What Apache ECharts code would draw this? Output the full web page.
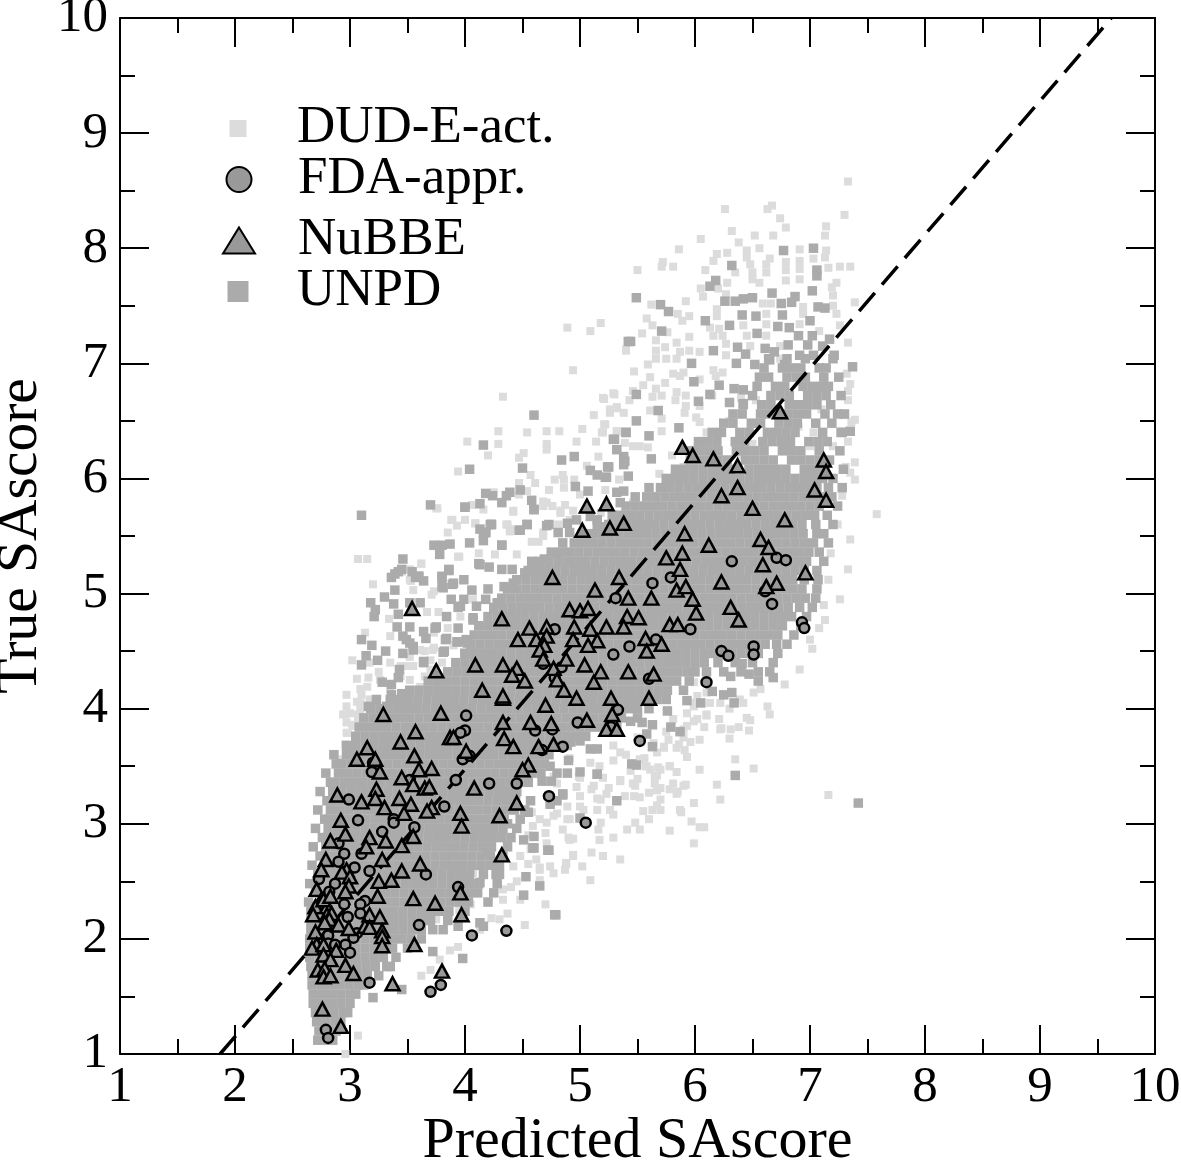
<!DOCTYPE html>
<html>
<head>
<meta charset="utf-8">
<title>Predicted vs true SAscore</title>
<script src="https://cdn.jsdelivr.net/npm/echarts@6/dist/echarts.min.js"></script>
<style>
html, body { margin: 0; padding: 0; background: #fff; }
#chart { width: 1181px; height: 1161px; }
</style>
</head>
<body>
<div id="chart"></div>
<script>
// all values
const tickLabels = [1, 2, 3, 4, 5, 6, 7, 8, 9, 10];
const refLine = [[1.87, 1], [9.62, 10]];

// NuBBE, x then y
const nubbe = [
3.29,3.95, 3.79,3.96, 3.57,3.80, 3.87,3.75, 3.90,3.75, 3.44,3.71, 3.15,3.66, 3.06,3.56, 3.56,3.59, 3.22,3.56,
3.26,3.45, 3.60,3.47, 3.71,3.48, 3.45,3.40, 3.55,3.34, 3.65,3.31, 3.69,3.32, 3.23,3.30, 3.22,3.22, 2.89,3.25,
3.10,3.19, 3.43,3.22, 3.53,3.17, 3.30,3.14, 3.47,3.09, 3.71,3.14, 3.67,3.11, 4.01,3.63, 4.08,3.31, 3.96,3.09,
3.97,2.98, 4.30,3.07, 4.45,3.18, 4.34,3.74, 4.42,3.67, 4.33,3.88, 4.57,3.88, 4.75,3.87, 4.70,4.03, 4.33,4.09,
4.64,3.67, 4.77,3.69, 4.55,3.51, 4.50,3.47, 4.32,2.73, 2.92,3.03, 2.96,2.91, 2.83,2.85, 3.17,2.88, 3.31,2.85,
3.14,2.80, 3.55,2.89, 3.45,2.81, 2.79,2.69, 3.28,2.69, 3.61,2.65, 2.75,2.60, 3.45,2.59, 2.97,2.60, 2.93,2.58,
3.25,2.50, 3.36,2.51, 3.00,2.54, 2.99,2.46, 2.71,2.43, 2.96,2.41, 3.24,2.37, 3.55,2.35, 3.74,2.31, 3.96,2.40,
3.97,2.21, 2.75,2.34, 2.70,2.28, 2.80,2.28, 2.77,2.34, 2.83,2.37, 2.68,2.21, 2.80,2.21, 2.84,2.22, 2.82,2.17,
3.17,2.21, 3.26,2.19, 2.78,2.14, 2.90,2.12, 2.99,2.09, 3.13,2.11, 3.17,2.10, 2.70,2.06, 3.28,2.07, 3.28,2.02,
3.28,1.94, 3.56,1.95, 2.71,1.95, 2.67,1.92, 2.77,1.95, 2.88,1.90, 2.77,1.86, 2.83,1.82, 2.72,1.73, 2.78,1.74,
2.96,1.77, 3.03,1.70, 2.77,1.67, 2.83,1.68, 3.37,1.61, 3.80,1.72, 2.76,1.39, 2.92,1.24,
5.06,5.76, 5.23,5.78, 5.38,5.61, 5.02,5.55, 5.26,5.57, 5.91,5.52, 5.75,5.31, 5.89,5.35, 5.87,5.21, 5.34,5.14,
4.76,5.14, 5.13,5.03, 5.84,5.03, 5.92,5.06, 5.42,4.96, 5.62,4.96, 5.98,4.95, 4.91,4.86, 5.00,4.85, 5.07,4.87,
3.54,4.87, 6.01,4.83, 4.32,4.78, 5.41,4.80, 5.51,4.79, 5.38,4.71, 4.56,4.70, 4.71,4.71, 4.95,4.71, 5.23,4.71,
5.09,4.69, 5.78,4.73, 5.85,4.73, 4.46,4.60, 4.62,4.60, 4.71,4.63, 4.94,4.60, 5.15,4.59, 5.07,4.55, 5.57,4.61,
5.71,4.56, 5.58,4.50, 4.69,4.55, 4.65,4.51, 4.88,4.43, 4.68,4.43, 4.09,4.38, 3.75,4.33, 4.33,4.38, 4.45,4.35,
4.41,4.29, 5.04,4.38, 5.18,4.32, 5.42,4.32, 5.64,4.30, 5.12,4.23, 4.77,4.35, 4.80,4.25, 4.52,4.24, 4.86,4.16,
4.15,4.16, 4.33,4.11, 4.97,4.09, 5.27,4.09, 5.60,4.09, 5.28,3.95, 5.06,3.90, 5.23,3.82, 5.32,3.82,
5.89,6.27, 5.98,6.20, 6.16,6.17, 6.37,6.11, 7.12,6.16, 7.14,6.06, 6.37,5.92, 6.23,5.85, 7.04,5.90, 7.14,5.81,
6.50,5.74, 6.78,5.64, 6.12,5.42, 6.57,5.47, 6.64,5.40, 6.59,5.25, 6.96,5.18, 6.23,5.10, 6.71,5.09, 6.62,5.06,
6.31,4.88, 6.38,4.77, 6.74,6.58
];

// FDA-appr., x then y
const fda = [
4.01,3.94, 4.00,3.81, 3.96,3.79, 4.61,3.81, 4.76,3.82, 4.98,3.88, 4.67,3.64, 4.85,3.67, 3.98,3.56, 4.04,3.59,
3.20,3.53, 3.19,3.45, 3.52,3.38, 3.92,3.38, 4.21,3.35, 4.45,3.35, 4.73,3.24, 2.99,3.21, 3.82,3.15, 3.07,3.03,
3.38,3.04, 3.38,3.01, 3.56,2.97, 3.28,2.93, 2.90,2.83, 2.95,2.74, 3.10,2.74, 2.90,2.67, 3.04,2.62, 3.17,2.59,
3.66,2.56, 2.73,2.52, 2.87,2.48, 2.82,2.41, 3.94,2.45, 3.13,2.33, 3.09,2.30, 2.95,2.30, 3.09,2.22, 2.98,2.19,
3.60,2.12, 3.06,2.05, 3.03,2.01, 4.06,2.03, 4.36,2.07, 2.81,2.03, 2.81,1.96, 2.96,1.95, 2.87,1.95, 3.00,1.88,
2.79,1.87, 3.17,1.62, 3.79,1.60, 3.70,1.54, 2.79,1.21, 2.81,1.14,
5.63,5.09, 5.79,5.14, 5.31,4.96, 4.78,4.69, 5.96,4.69, 5.66,4.60, 5.43,4.54, 5.29,4.47, 4.68,4.39, 4.84,4.36,
4.78,4.27, 5.60,4.26, 5.33,3.99, 5.27,3.84, 5.52,3.72, 5.05,3.01,
6.32,5.28, 6.71,5.31, 6.79,5.29, 6.61,5.02, 6.67,4.91, 6.93,4.75, 6.95,4.70, 6.23,4.50, 6.29,4.46, 6.51,4.54,
6.51,4.47, 6.10,4.23
];

// DUD-E actives that show outside the UNPD cloud, x then y in hundredths
const dudPairs = [
626,834, 663,834, 667,837, 674,826, 679,818, 730,829, 714,819, 713,811, 632,815, 652,811, 668,811, 605,808, 638,805,
586,799, 645,798, 656,800, 691,799, 714,798, 628,796, 619,795, 645,792, 665,791, 713,792, 703,791, 572,788, 616,789,
648,786, 662,786, 679,788, 691,789, 581,784, 571,784, 550,781, 609,781, 726,784, 735,784, 716,783, 635,779, 650,779,
662,779, 679,781, 691,782, 650,773, 679,772, 691,773, 628,770, 656,770, 723,770, 620,765, 605,765, 719,766, 607,758,
627,760, 720,759, 592,754, 562,751, 619,747, 659,752, 666,752, 694,749, 720,750, 739,753, 585,743, 595,741, 619,741,
662,743, 694,743, 723,743, 558,739, 589,737, 563,733, 613,731, 621,730, 642,733, 662,734, 691,734, 726,733, 554,726,
576,727, 616,724, 624,724, 645,724, 662,724, 566,720, 584,718, 595,723, 708,728, 733,718, 574,714, 627,717, 648,715,
674,715, 540,712, 566,711, 587,710, 604,710, 575,704, 559,699, 566,704, 584,704, 595,711, 627,707, 674,704, 547,693,
581,691, 590,692, 616,694, 624,692, 561,688, 555,681, 574,683, 587,689, 604,686, 546,676, 529,674, 520,670, 566,678,
584,675, 592,672, 563,671, 571,672, 583,668, 618,689, 732,691, 733,676, 653,668, 543,668, 532,662, 526,660, 561,659,
592,663, 604,663, 571,652, 591,657, 601,653, 521,647, 532,641, 520,640, 571,641, 604,649, 546,628, 552,628, 559,627,
736,649, 739,614, 735,605, 703,640, 700,628, 720,628, 679,628, 569,604, 716,325, 758,569, 733,858,
297,402, 307,395, 297,388, 298,379, 309,405, 340,404, 294,395, 309,386, 309,417, 326,425, 343,434, 361,451, 296,395,
302,386, 317,408, 335,417, 352,425, 370,434, 296,369, 291,356,
375,574, 388,564, 393,559, 400,564, 409,561, 385,553, 442,572, 436,560, 439,554, 471,579, 483,572, 468,576, 458,545,
464,545, 468,553, 412,535, 426,534, 394,532, 362,526, 352,512, 355,503, 371,499, 345,519, 377,484, 407,495, 419,472,
372,451, 370,442, 344,437, 344,428, 491,564, 518,570, 529,569, 546,579, 567,577, 584,573, 483,524, 445,534,
557,350, 570,347, 578,350, 593,358, 573,366, 584,366, 596,371, 565,341, 581,335, 592,334, 535,337, 546,335, 567,329,
517,350, 529,355, 491,357, 509,353, 474,350, 497,332, 523,326, 552,323, 584,326, 590,382, 593,396, 599,402, 602,411,
564,370, 604,297, 622,321, 635,356, 604,347, 591,364, 570,321, 552,295, 526,312, 517,286, 535,269, 491,286, 487,260,
465,251, 448,234, 430,217, 413,208, 387,190, 370,173, 452,212, 470,230, 509,251, 587,312, 578,330, 561,347, 622,382,
639,408, 657,417, 604,373, 648,390, 678,421, 691,434, 700,460, 713,477, 726,495, 733,521, 735,547, 739,599, 739,651,
735,682, 362,168, 307,116, 394,193, 378,182, 477,257, 465,260, 494,272, 488,266, 448,272, 433,243, 433,234, 437,222,
423,218, 296,100, 413,263, 428,269, 442,263, 457,278, 471,283, 480,309, 491,304, 459,298, 471,301, 451,286, 407,257,
396,272, 372,283, 384,269, 375,217, 367,222, 500,340, 510,330, 480,335, 520,340, 540,360, 550,375, 575,380, 610,395,
630,400, 455,290, 470,292, 485,295, 500,315, 515,322, 445,250, 455,265, 440,245, 425,240, 405,230, 395,225, 385,240,
640,620, 650,630, 660,625, 670,640, 690,645, 710,660, 600,625, 610,640, 580,620, 590,610, 630,650, 640,670, 615,672,
489,731, 509,728, 518,735, 540,711, 494,694, 433,671, 521,669, 530,673, 532,661, 526,657, 512,655, 538,657, 429,641,
471,641, 482,641, 454,640, 502,643, 522,647, 519,640, 532,641, 402,632, 429,630, 471,630, 471,625, 497,632, 514,632,
539,631, 420,620, 451,622, 447,618, 516,619, 394,606, 457,603, 485,603, 506,611, 478,599, 486,599, 495,599, 534,599,
461,596, 447,596, 473,590, 486,592, 522,590, 425,588, 447,586, 454,589, 500,586, 468,580, 476,576, 487,577, 406,577,
416,573, 376,574, 442,571, 483,570, 494,572, 389,564, 409,561, 437,560, 439,556, 468,550, 481,560,
663,402, 665,395, 645,392, 647,381, 638,384, 631,382, 630,374, 621,391, 623,383, 610,394, 608,384, 599,389, 590,375,
586,369, 577,373, 573,367, 593,358, 556,357, 558,350, 578,350, 584,345, 568,349, 567,342, 565,335, 570,331, 550,339,
548,333, 535,338, 590,333, 585,328, 619,334, 651,348, 560,327, 547,324, 539,324, 525,331, 518,321, 599,318, 567,316,
563,312, 555,311, 570,312, 560,304, 548,301, 541,295, 588,310, 597,302, 608,297, 578,294, 599,283, 529,288, 529,308,
518,301, 516,295, 490,288, 494,287, 510,275, 494,273, 520,272, 488,265, 502,263, 462,269, 465,262, 474,263, 499,341,
512,333, 500,324, 489,315, 503,312, 477,307, 465,304, 489,304, 458,310, 515,312, 477,341, 465,350, 544,346, 529,368,
535,362, 567,362, 552,356, 599,405, 613,405, 622,405, 642,405, 610,414, 651,414, 599,423, 602,391, 581,391, 593,385,
576,399,
307,530, 315,530, 320,508, 362,526, 352,521, 353,511, 395,532, 334,478, 313,466, 335,463, 302,442, 306,426, 373,453,
373,502, 367,484, 335,440, 316,427, 317,440, 297,412, 300,396, 306,406, 310,412, 315,419, 307,390, 297,379, 355,437,
349,437, 378,419, 361,419, 303,385, 309,399, 373,466, 396,480, 416,472, 441,488, 380,440, 375,430, 365,428, 352,445,
365,450, 390,455, 385,470, 325,432,
731,610, 733,632, 729,655, 733,668, 728,585, 724,560, 718,535, 716,512, 712,490, 708,470, 702,452
];

// UNPD loose points outside the solid band, x then y in hundredths
const unpdLoose = [
677,798, 703,800, 632,785, 706,781, 706,776, 618,772, 613,767, 702,763, 667,761, 549,757, 626,754, 635,754, 642,756,
650,757, 687,758, 684,753, 675,752, 570,751, 577,745, 707,749, 713,748, 641,742, 653,741, 676,742, 609,737, 700,737,
630,733, 672,732, 682,731, 571,728, 654,726, 690,724, 702,724, 544,719, 637,714, 681,716, 698,716, 661,713, 616,711,
669,710, 711,715, 717,721, 644,708, 597,700, 636,700, 652,699, 665,703, 678,699, 691,707, 703,707, 721,707, 737,697,
599,684, 621,681, 549,673, 634,678, 642,677, 613,673, 603,667, 630,666, 642,665, 568,659, 724,656, 549,650, 540,640,
560,637, 586,644, 529,634, 532,625, 539,615, 562,617, 524,610, 522,601, 727,640, 735,641,
310,568, 460,655, 416,629, 404,608, 424,585, 370,577, 345,521, 357,514, 339,517, 439,588, 448,590, 404,544, 413,556,
387,543, 378,534, 330,497, 339,503, 354,519, 322,486, 310,460, 742,318, 635,342, 478,221,
400,575, 413,578, 432,579, 460,573, 422,560, 448,555, 454,560, 473,560, 481,553, 416,553, 373,542, 380,542, 432,542,
480,535, 469,530, 458,528, 412,526, 421,523, 432,521, 441,521, 452,518, 458,519, 386,521, 380,515, 346,530, 359,515,
364,511, 399,512, 390,509, 381,505, 406,503, 420,504, 388,495, 396,489, 361,492, 384,480, 407,477, 352,471, 364,467,
374,470, 383,460, 394,470, 394,458, 355,454, 381,449, 364,440, 349,460, 346,448, 401,460,
479,221, 451,238, 465,246, 453,254, 485,325, 398,183, 413,214, 416,211, 381,208, 372,189, 320,149, 345,156, 332,176,
394,211, 413,249, 427,256, 419,275, 459,279, 472,277, 451,286, 437,300, 455,310, 480,320, 500,345, 515,343, 549,351,
542,719, 540,640, 530,634, 538,619, 538,612, 484,616, 495,619, 450,609, 525,610, 509,607, 515,603, 523,601, 542,602,
496,593, 507,589, 418,587, 436,585, 458,581, 460,573, 400,575, 423,560, 454,560, 447,555, 471,559, 489,561, 418,553,
491,553, 497,564, 509,567, 532,588, 538,589, 535,579, 515,564, 519,558,
532,320, 545,352, 515,343, 563,367, 485,326, 474,350, 489,344, 480,344, 490,355, 467,337, 475,337, 457,320, 474,317,
500,305, 460,289, 460,279, 473,277, 515,365, 500,372, 509,365, 554,388, 563,386, 558,378, 579,384, 587,380, 576,398,
593,407, 605,405, 615,415, 625,412, 632,414, 634,405, 631,428, 655,424, 647,430, 641,439, 668,427, 544,389, 492,371,
342,519, 336,514, 360,515, 380,514, 386,520, 423,560, 418,553, 416,546, 432,542, 413,525, 318,492, 338,491, 321,480,
342,482, 352,492, 341,471, 346,463, 366,461, 375,471, 384,461, 393,458, 319,455, 314,446, 310,438, 324,442, 331,450,
355,451, 352,457, 382,450, 364,441, 343,434, 342,427, 328,423, 336,421, 336,412, 345,413, 323,408, 316,402, 332,402,
380,506, 389,508, 399,495, 394,488, 407,479, 400,448, 402,457, 418,495, 428,492, 434,506, 442,509, 410,489
];

// UNPD solid band, each row is y then its x values, hundredths
const unpdRows = [
[112,272,280,285],
[120,273,281,288],
[128,271,279,287,292],
[136,270,278,286,294,298],
[144,268,276,284,292,300],
[152,268,276,284,292,300,305],
[160,267,275,283,291,299,307,312],
[168,267,275,283,291,299,307,315,325],
[176,266,274,282,290,298,306,314,322,335],
[184,265,273,281,289,297,305,313,321,329,340],
[192,265,273,281,289,297,305,313,321,329,337,350],
[200,265,273,281,289,297,305,313,321,329,337,345,353,362],
[208,266,274,282,290,298,306,314,322,330,338,346,354,362,372],
[216,266,274,282,290,298,306,314,322,330,338,346,354,362,370,385],
[224,266,274,282,290,298,306,314,322,330,338,346,354,362,370,378,386,400],
[232,264,275,283,291,299,307,315,323,331,339,347,355,363,371,379,387,395,403,420],
[240,270,275,283,291,299,307,315,323,331,339,347,355,363,371,379,387,395,403,411,425],
[248,265,276,284,292,300,308,316,324,332,340,348,356,364,372,380,388,396,404,412,428],
[256,272,276,284,292,300,308,316,324,332,340,348,356,364,372,380,388,396,404,416,430],
[264,267,278,286,294,302,310,318,326,334,342,350,358,366,374,382,390,398,406,414,422,430],
[272,274,278,286,294,302,310,318,326,334,342,350,358,366,374,382,390,398,406,414,422,433],
[280,268,279,287,295,303,311,319,327,335,343,351,359,367,375,383,391,399,407,415,423,437],
[288,276,280,288,296,304,312,320,328,336,344,352,360,368,376,384,392,400,408,416,424,432,440],
[296,270,281,289,297,305,313,321,329,337,345,353,361,369,377,385,393,401,409,417,425,433,445],
[304,278,282,290,298,306,314,322,330,338,346,354,362,370,378,386,394,402,410,418,426,434,448],
[312,272,283,291,299,307,315,323,331,339,347,355,363,371,379,387,395,403,411,419,427,435,443,452],
[320,280,284,292,300,308,316,324,332,340,348,356,364,372,380,388,396,404,412,420,428,436,444],
[328,274,285,293,301,309,317,325,333,341,349,357,365,373,381,389,397,405,413,421,429,437,445],
[336,283,287,295,303,311,319,327,335,343,351,359,367,375,383,391,399,407,415,423,431,439,447,455],
[344,279,290,298,306,314,322,330,338,346,354,362,370,378,386,394,402,410,418,426,434,442,450,458,466],
[352,288,293,301,309,317,325,333,341,349,357,365,373,381,389,397,405,413,421,429,437,445,453,461,469],
[360,286,297,305,313,321,329,337,345,353,361,369,377,385,393,401,409,417,425,433,441,449,457,465,473],
[368,297,305,313,321,329,337,345,353,361,369,377,385,393,401,409,417,425,433,441,449,457,465,473,481,489],
[376,305,313,321,329,337,345,353,361,369,377,385,393,401,409,417,425,433,441,449,457,465,473,481,489,497,505],
[384,308,316,324,332,340,348,356,364,372,380,388,396,404,412,420,428,436,444,452,460,468,476,484,492,500,508,516,524,532],
[392,312,320,328,336,344,352,360,368,376,384,392,400,408,416,424,432,440,448,456,464,472,480,488,496,504,512,520,528,536,550],
[400,318,326,334,342,350,358,366,374,382,390,398,406,414,422,430,438,446,454,462,470,478,486,494,502,510,518,526,534,542,550,560],
[408,335,343,351,359,367,375,383,391,399,407,415,423,431,439,447,455,463,471,479,487,495,503,511,519,527,535,543,551,559,567,575],
[416,352,360,368,376,384,392,400,408,416,424,432,440,448,456,464,472,480,488,496,504,512,520,528,536,544,552,560,568,576,590],
[424,368,376,384,392,400,408,416,424,432,440,448,456,464,472,480,488,496,504,512,520,528,536,544,552,560,568,576,584,595],
[432,385,393,401,409,417,425,433,441,449,457,465,473,481,489,497,505,513,521,529,537,545,553,561,569,577,585,593,600,610,625,640,655,665],
[440,392,400,408,416,424,432,440,448,456,464,472,480,488,496,504,512,520,528,536,544,552,560,568,576,584,592,600,608,620,635,650,668],
[448,400,408,416,424,432,440,448,456,464,472,480,488,496,504,512,520,528,536,544,552,560,568,576,584,592,600,608,616,624,632,640,648,655,672],
[456,405,413,421,429,437,445,453,461,469,477,485,493,501,509,517,525,533,541,549,557,565,573,581,589,597,605,613,621,629,637,645,653,661,671,680],
[464,408,416,424,432,440,448,456,464,472,480,488,496,504,512,520,528,536,544,552,560,568,576,584,592,600,608,616,624,632,640,648,656,664,672,686],
[472,412,420,428,436,444,452,460,468,476,484,492,500,508,516,524,532,540,548,556,564,572,580,588,596,604,612,620,628,636,644,652,660,668,676,692],
[480,420,428,436,444,452,460,468,476,484,492,500,508,516,524,532,540,548,556,564,572,580,588,596,604,612,620,628,636,644,652,660,668,676,684,697],
[488,425,433,441,449,457,465,473,481,489,497,505,513,521,529,537,545,553,561,569,577,585,593,601,609,617,625,633,641,649,657,665,673,681,691,702],
[496,432,440,448,456,464,472,480,488,496,504,512,520,528,536,544,552,560,568,576,584,592,600,608,616,624,632,640,648,656,664,672,680,688,696,705],
[504,437,445,453,461,469,477,485,493,501,509,517,525,533,541,549,557,565,573,581,589,597,605,613,621,629,637,645,653,661,669,677,685,693,706],
[512,445,453,461,469,477,485,493,501,509,517,525,533,541,549,557,565,573,581,589,597,605,613,621,629,637,645,653,661,669,677,685,695,707],
[520,455,463,471,479,487,495,503,511,519,527,535,543,551,559,567,575,583,591,599,607,615,623,631,639,647,655,663,671,679,687,695,706],
[528,465,473,481,489,497,505,513,521,529,537,545,553,561,569,577,585,593,601,609,617,625,633,641,649,657,665,673,681,689,697,712],
[536,475,483,491,499,507,515,523,531,539,547,555,563,571,579,587,595,603,611,619,627,635,643,651,659,667,675,683,691,699,708],
[544,485,495,503,511,519,527,535,543,551,559,567,575,583,591,599,607,615,623,631,639,647,655,663,671,679,687,695,703,716],
[552,502,510,518,526,534,542,550,558,566,574,582,590,598,606,614,622,630,638,646,654,662,670,678,686,694,706,712],
[560,515,525,533,541,549,557,565,573,581,589,597,605,613,621,629,637,645,653,661,669,677,685,693,705,720],
[568,528,536,544,552,560,568,576,584,592,600,608,616,624,632,640,648,656,664,672,680,688,696,704,715],
[576,540,548,556,564,572,580,588,596,604,612,620,628,636,644,652,660,668,676,684,692,700,708,724],
[584,548,558,566,574,582,590,598,606,614,622,630,638,646,654,662,670,678,686,694,702,710,719],
[592,560,570,578,586,594,602,610,618,626,634,642,650,658,666,674,682,690,698,706,716,728],
[600,575,583,591,599,607,615,623,631,639,647,655,663,671,679,687,695,703,711,720],
[608,583,591,599,607,615,623,631,647,655,663,671,679,695,703,711,729],
[616,596,604,612,620,628,644,652,660,668,684,692,700,708,717],
[624,596,604,612,620,636,644,652,660,676,684,692,708,726],
[632,603,611,619,635,643,659,667,675,683,699,707,715],
[640,615,623,639,647,663,671,679,687,711,728],
[648,625,633,649,657,673,681,689,705,719],
[656,633,641,657,665,681,689,697,713,730],
[664,642,658,666,682,690,698,706,718],
[672,650,666,674,682,698,706,714,727],
[680,654,670,678,694,702,710,716],
[688,656,664,680,688,696,712,725],
[696,660,676,684,692,708,714],
[704,664,680,696,720]
];

// turn the hundredths lists into chart points
const pairs = (list, scale) => {
  const out = [];
  for (let i = 0; i < list.length; i += 2) out.push([list[i] / scale, list[i + 1] / scale]);
  return out;
};
const unpdData = pairs(unpdLoose, 100);
unpdRows.forEach(row => {
  row.slice(1).forEach(x => unpdData.push([x / 100, row[0] / 100]));
});

const FONT = '"Liberation Serif", "Times New Roman", serif';
const marker = { color: '#999999', borderColor: '#000', borderWidth: 2.5, opacity: 1 };

// one legend per entry because the symbols have different sizes
// textX is where all the labels start, iconDown drops the icon below the label's centre
const textX = 297;
const legendItem = (name, icon, cx, textCy, w, h, iconDown) => ({
  data: [{ name: name, icon: icon }],
  left: cx - w / 2,
  top: textCy - 24,
  padding: 0,
  itemWidth: w,
  itemHeight: h,
  orient: 'vertical',
  selectedMode: false,
  textStyle: {
    fontFamily: FONT,
    fontSize: 53,
    color: '#000',
    padding: [0, 0, iconDown * 2, textX - (cx + w / 2) - 5]
  }
});

const axisCommon = {
  type: 'value',
  min: 1,
  max: 10,
  interval: 1,
  splitLine: { show: false },
  axisLine: { show: true, onZero: false, lineStyle: { color: '#000', width: 2 } },
  axisTick: { show: true, inside: true, length: 29, lineStyle: { color: '#000', width: 2 } },
  minorTick: { show: true, splitNumber: 2, length: 15, lineStyle: { color: '#000', width: 2 } }
};
const labelStyle = {
  fontFamily: FONT,
  fontSize: 51,
  color: '#000',
  formatter: v => tickLabels.includes(v) ? String(v) : ''
};

const myChart = echarts.init(document.getElementById('chart'));
myChart.setOption({
  animation: false,
  backgroundColor: '#fff',
  grid: { left: 120, right: 26, top: 18, bottom: 107, outerBoundsMode: 'none' },
  legend: [
    legendItem('DUD-E-act.', 'rect', 238, 126, 17, 17, 0),
    legendItem('FDA-appr.', 'circle', 238, 177, 25, 25, 5),
    legendItem('NuBBE', 'triangle', 238, 238, 32, 26, 0),
    legendItem('UNPD', 'rect', 238, 289, 21, 21, 0)
  ],
  xAxis: [
    { ...axisCommon, position: 'bottom', name: 'Predicted SAscore', nameLocation: 'middle', nameGap: 59, nameMoveOverlap: false,
      nameTextStyle: { fontFamily: FONT, fontSize: 58, color: '#000' }, axisLabel: { ...labelStyle, margin: 8 } },
    { ...axisCommon, position: 'top', axisLabel: { show: false } }
  ],
  yAxis: [
    { ...axisCommon, position: 'left', name: 'True SAscore', nameLocation: 'middle', nameGap: 70, nameMoveOverlap: false,
      nameTextStyle: { fontFamily: FONT, fontSize: 57.5, color: '#000' }, axisLabel: { ...labelStyle, margin: 12 } },
    { ...axisCommon, position: 'right', axisLabel: { show: false } }
  ],
  series: [
    {
      name: 'DUD-E-act.', type: 'scatter', symbol: 'rect', symbolSize: 8,
      itemStyle: { color: '#dcdcdc', opacity: 1 }, z: 2, data: pairs(dudPairs, 100), clip: false
    },
    {
      name: 'UNPD', type: 'scatter', symbol: 'rect', symbolSize: 9.5,
      itemStyle: { color: '#ababab', opacity: 1 }, z: 3, data: unpdData
    },
    {
      type: 'line', data: refLine, symbol: 'none', z: 4, silent: true,
      lineStyle: { color: '#000', width: 3.5, type: [24, 11] }
    },
    {
      name: 'FDA-appr.', type: 'scatter', symbol: 'circle', symbolSize: 10,
      itemStyle: marker, z: 5, data: pairs(fda, 1)
    },
    {
      name: 'NuBBE', type: 'scatter', symbol: 'triangle', symbolSize: [14, 13],
      itemStyle: marker, z: 6, data: pairs(nubbe, 1)
    }
  ]
});
</script>
</body>
</html>
